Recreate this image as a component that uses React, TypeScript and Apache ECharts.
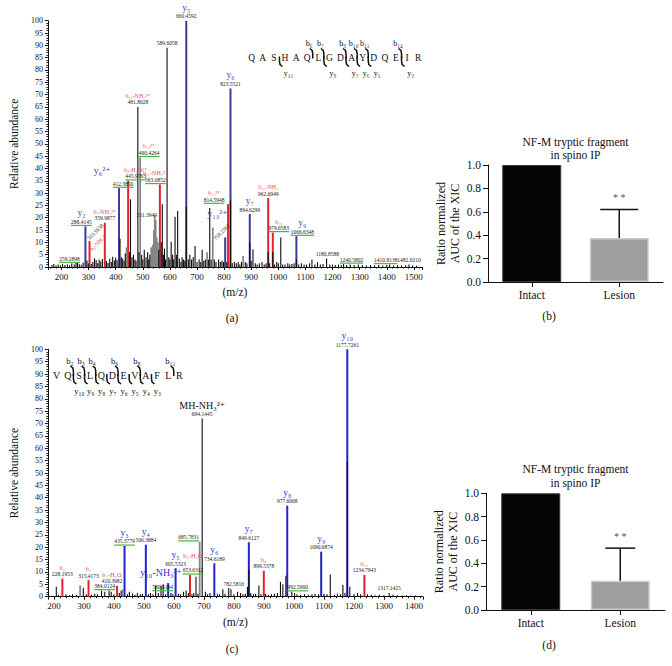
import React, { useEffect, useRef } from "react";
import * as echarts from "echarts";

const SERIF = "'Liberation Serif', 'Times New Roman', 'DejaVu Serif', serif";

// ================= Panel (a): MS/MS spectrum =================
const specABlue: number[][] = [
  [288.41, 16.5], [412.39, 32], [660.46, 100], [804, 12], [823.55, 72.5], [894.63, 21.5], [1066.63, 12.5],
];
const specARed: number[][] = [
  [303.56, 10.5], [359.99, 18], [445.98, 35], [563.09, 33.5], [814.59, 25.5], [962.69, 28], [979.66, 14],
];
const specAGrey: number[][] = [
  [440, 8], [490.43, 44.5], [531, 8], [537, 9], [541, 15], [544, 21], [547.8, 19], [551.4, 12], [556, 10],
  [737, 6], [758.24, 16], [870, 4.5],
];
const specABlack: number[][] = [
  [165, 0.8], [172, 1.2], [180, 0.6], [188, 1], [196, 0.7], [204, 1.3], [213, 0.8], [222, 1], [230, 0.7],
  [238, 1.4], [247, 1], [254, 1.6], [259.3, 2], [266, 1.1], [273, 0.9], [280, 1.8], [294, 2.6], [299, 1.5],
  [310, 1.2], [316, 2], [322, 3.5], [328, 2.8], [334, 1.5], [339, 3], [345, 2.2], [351, 3.2], [366, 2.4],
  [372, 1.6], [378, 3.4], [384, 2], [389, 4.2], [395, 2.6], [400, 3.8], [405, 2.8], [416, 11.5], [421, 4],
  [426, 3.5], [431, 2.5], [435.5, 5.5], [451, 6], [454.7, 27.5], [460, 4], [465.6, 5], [471, 3], [475, 2.5],
  [481.8, 65], [486, 6], [496, 5], [500, 3], [505.5, 7], [512, 4], [518, 6], [522, 3], [526, 5], [559, 7],
  [568, 10], [572, 25.5], [576, 5], [580, 7.5], [584, 3], [589.6, 89], [596, 4], [600, 3], [604.7, 10.3],
  [610, 5], [614, 3], [619, 20.4], [624, 5], [628.6, 22.7], [635, 3.5], [641, 2], [645, 4], [650, 3],
  [655, 2.5], [660.46, 24.5], [668, 3], [673.5, 5], [680, 3], [686, 4], [692.8, 8.5], [700, 2], [708, 3],
  [714, 2], [719, 7], [725, 2.5], [731, 3], [742, 3], [747, 24], [752, 3], [764, 3], [770, 2], [779.7, 3],
  [786, 2], [792, 2.5], [798, 2], [810, 2], [823.55, 27], [830, 1.5], [838, 2], [845, 1.5], [852, 2],
  [858, 1], [864, 2], [878, 2], [884, 1.5], [894.63, 10], [900, 2.5], [906.5, 7.2], [915, 1.5], [922, 1],
  [930, 1.5], [940, 2], [948, 1], [955, 1.5], [962.69, 6], [968, 1.5], [979.66, 6], [986, 1], [994, 2],
  [1000, 1.5], [1009, 12], [1016, 1], [1025, 1], [1035, 1.5], [1042, 1], [1050, 1.2], [1058, 1.5],
  [1066.63, 3], [1075, 1], [1085, 1.5], [1095, 1], [1104, 1], [1115, 1.5], [1124, 3], [1135, 1],
  [1144.5, 2], [1155, 1], [1165, 1.2], [1178, 3.5], [1190, 1], [1200, 1], [1210, 0.8], [1222, 1],
  [1232, 0.8], [1240.6, 1.2], [1252, 0.8], [1265, 1], [1280, 0.8], [1295, 1], [1310, 0.8], [1325, 0.6],
  [1340, 0.8], [1355, 0.6], [1370, 0.8], [1385, 0.6], [1400, 0.8], [1410.8, 1], [1425, 0.6], [1440, 0.8],
  [1455, 0.6], [1470, 0.7], [1482, 1], [1495, 0.6], [1510, 0.5],
];
// [m/z, peak intensity, ion label, m/z label, ion type]
type Lab = [number, number, string, string, string];
const labelsA: Lab[] = [
  [259.2898, 1.5, "", "259.2898", ""],
  [288.4145, 16.5, "y₂", "288.4145", "y"],
  [303.5638, 10.5, "b₆-NH₃²⁺", "303.5638", "b"],
  [359.9877, 18, "b₇-NH₃²⁺", "359.9877", "b"],
  [412.385, 32, "y₆²⁺", "412.3850", "y"],
  [445.9763, 35, "b₉-H₂O²⁺", "445.9763", "b"],
  [481.8028, 65, "b₁₀-NH₃²⁺", "481.8028", "b"],
  [490.4264, 44.5, "b₁₀²⁺", "490.4264", "b"],
  [551.3949, 21, "", "551.3949", ""],
  [563.0852, 33.5, "b₁₁-NH₃²⁺", "563.0852", "b"],
  [589.6058, 89, "", "589.6058", ""],
  [660.4592, 100, "y₅", "660.4592", "y"],
  [758.2361, 16, "y₁₃²⁺", "758.2361", "y"],
  [814.5948, 25.5, "b₁₄²⁺", "814.5948", "b"],
  [823.5521, 72.5, "y₆", "823.5521", "y"],
  [894.6299, 21.5, "y₇", "894.6299", "y"],
  [962.6949, 28, "b₁₀-NH₃", "962.6949", "b"],
  [979.6583, 14, "b₁₀", "979.6583", "b"],
  [1066.6348, 12.5, "y₉", "1066.6348", "y"],
  [1180.8588, 3.5, "", "1180.8588", ""],
  [1240.5802, 1.2, "", "1240.5802", ""],
  [1410.8138, 1, "", "1410.8138", ""],
  [1482.021, 1, "", "1482.0210", ""],
];
const greenA = ["259.2898", "288.4145", "412.3850", "445.9763", "490.4264", "563.0852", "814.5948",
  "979.6583", "1066.6348", "1240.5802", "1410.8138"];
const seqA = "QASHAQLGDAYDQEIR";
const bCutsA = [6, 7, 9, 10, 11, 14];
const yCutsA = [13, 9, 7, 6, 5, 2];
const yLabelsA = ["y₁₁", "y₉", "y₇", "y₆", "y₅", "y₂"];

// ================= Panel (c): MS/MS spectrum =================
const specCBlue: number[][] = [
  [435.38, 20.5], [506.39, 21], [580.62, 5.5], [605.53, 11.5], [734.62, 13.5], [849.61, 22],
  [977.61, 36.8], [1090.69, 18.2], [1177.73, 100],
];
const specCRed: number[][] = [
  [228.2, 7.3], [315.42, 6.7], [410.4, 4.4], [653.63, 8.8], [899.54, 10.5], [1234.79, 8.8],
];
const specCGrey: number[][] = [[287.5, 4.6], [429.5, 3], [685.78, 22.2]];
const specCBlack: number[][] = [
  [208, 4], [215, 0.8], [240, 1], [252, 0.6], [262, 1], [275, 0.8], [298, 3.6], [308, 1], [325, 0.8],
  [336, 1.2], [345, 1], [358.7, 2.5], [369.5, 2], [384, 2.5], [391, 2], [400, 1], [418, 1.5], [424, 2.5],
  [445, 1], [451.5, 2], [462, 1.2], [470, 0.8], [478, 1.5], [488, 1], [495, 1.2], [515, 1], [522, 1.5],
  [530, 1], [539, 4.5], [548, 1.5], [557, 4.5], [564, 5], [572, 1], [590, 1.5], [596, 1], [615, 1.2],
  [622, 1], [632, 2], [640.6, 2.5], [648, 1.5], [660, 1], [666, 1.5], [673.5, 8.1], [680, 1.2],
  [694.14, 72], [705, 2], [712, 1], [720, 1.5], [745, 1.2], [752, 1], [763, 3], [770, 1.2], [782.6, 3.5],
  [790, 3], [800, 1], [812, 2], [822, 1.5], [830, 1], [838, 1.2], [845, 4], [849.61, 11], [856, 1.5],
  [865, 1], [872, 1.2], [883, 4.5], [890, 1], [905, 1.2], [915, 0.8], [925, 1], [935, 1.2], [945, 1.5],
  [955, 6], [963, 5], [973, 8.5], [992.6, 2], [1002, 1.5], [1010, 1], [1022, 0.8], [1035, 1], [1048, 0.8],
  [1060, 1], [1070, 1.2], [1082, 1], [1100, 1.2], [1110, 1], [1121, 9], [1135, 0.8], [1145, 1.2],
  [1155, 1], [1163, 4.7], [1170, 1.5], [1177.73, 54.5], [1186, 4], [1200, 1], [1212, 1.5], [1222, 1],
  [1245, 1], [1258, 0.8], [1270, 0.6], [1285, 0.8], [1300, 0.6], [1317.1, 1.5], [1330, 0.8], [1345, 0.6],
  [1360, 0.5], [1375, 0.6], [1390, 0.5], [1405, 0.5],
];
const labelsC: Lab[] = [
  [228.1953, 7.3, "b₂", "228.1953", "b"],
  [315.4173, 6.7, "b₃", "315.4173", "b"],
  [384.0124, 2.5, "", "384.0124", ""],
  [410.3982, 4.4, "b₄-H₂O", "410.3982", "b"],
  [435.3779, 20.5, "y₃", "435.3779", "y"],
  [506.3884, 21, "y₄", "506.3884", "y"],
  [580.6194, 5.5, "y₁₀-NH₃²⁺", "580.6194", "y"],
  [605.5323, 11.5, "y₅", "605.5323", "y"],
  [653.6312, 8.8, "b₆-H₂O", "653.6312", "b"],
  [685.7831, 22.2, "", "685.7831", ""],
  [694.1445, 72, "MH-NH₃²⁺", "694.1445", "m"],
  [734.6189, 13.5, "y₆", "734.6189", "y"],
  [782.5816, 3.5, "", "782.5816", ""],
  [849.6127, 22, "y₇", "849.6127", "y"],
  [899.5378, 10.5, "b₈", "899.5378", "b"],
  [977.6068, 36.8, "y₈", "977.6068", "y"],
  [992.59, 2, "", "992.5900", ""],
  [1090.6874, 18.2, "y₉", "1090.6874", "y"],
  [1177.7261, 100, "y₁₀", "1177.7261", "y"],
  [1234.7943, 8.8, "b₁₁", "1234.7943", "b"],
  [1317.1425, 1.5, "", "1317.1425", ""],
];
const greenC = ["384.0124", "435.3779", "580.6194", "653.6312", "685.7831", "992.5900"];
const seqC = "VQSLQDEVAFLR";
const bCutsC = [2, 3, 4, 6, 8, 11];
const yCutsC = [10, 9, 8, 7, 6, 5, 4, 3];
const yLabelsC = ["y₁₀", "y₉", "y₈", "y₇", "y₆", "y₅", "y₄", "y₃"];

// ================= Panels (b), (d): bar charts =================
const barCategories = ["Intact", "Lesion"];
const barsB = [1.0, 0.377];
const errB: (number | null)[] = [null, 0.62];
const barsD = [1.0, 0.25];
const errD: (number | null)[] = [null, 0.53];
const barTitle = "NF-M tryptic fragment\nin spino IP";
const barYName = "Ratio normalized\nAUC of the XIC";
const sigMark = "* *";

// ================= layout (label offsets, px) =================
type Off = {
  dx?: number; dy?: number; ix?: number; iy?: number; isz?: number;
  rot?: boolean; rdx?: number; rdy?: number; ridx?: number; ridy?: number; irot?: boolean;
};
const layoutA: Record<string, Off> = {
  "259.2898": { dx: -8 },
  "288.4145": { dx: -4 },
  "303.5638": { rot: true, rdx: 5.7, rdy: -9.3, irot: true, ridx: 9, ridy: 1 },
  "412.3850": { dx: 4, ix: -21, iy: -5, isz: 10 },
  "445.9763": { dx: 7.5 },
  "490.4264": { dx: 9 },
  "551.3949": { dx: -10, dy: 4 },
  "563.0852": { dx: -4.5 },
  "758.2361": { rot: true, rdx: 8.7, rdy: 4.4, ridx: 4.7, ridy: -13.6, isz: 10 },
  "814.5948": { dx: -14 },
  "979.6583": { dx: 6 },
  "1066.6348": { dx: 6 },
  "1240.5802": { dx: 8 },
  "1410.8138": { dx: -4 },
};
const layoutC: Record<string, Off> = {
  "384.0124": { dx: -4.5 },
  "410.3982": { dx: -5 },
  "580.6194": { dx: -5.5, dy: 8.5, ix: -1.5, iy: -6.3, isz: 10 },
  "653.6312": { dx: 3, iy: -7.7 },
  "685.7831": { dx: -11 },
  "694.1445": { isz: 10 },
  "782.5816": { dx: 5 },
  "992.5900": { dx: 6 },
};

const SUB = "₀₁₂₃₄₅₆₇₈₉";
const toSub = (n: number) => String(n).split("").map((d) => SUB[+d]).join("");

function txt(text: string, size: number, fill: string, align: string, valign: string, extra: any = {}) {
  return {
    text, fontSize: size, fontFamily: SERIF, fill,
    align, verticalAlign: valign, textAlign: align, textVerticalAlign: valign, ...extra,
  };
}

function peakSeries(ax: number, data: number[][], color: string, width: number) {
  return {
    type: "custom", xAxisIndex: ax, yAxisIndex: ax, silent: true,
    data, encode: { x: 0, y: 1 },
    renderItem: (_p: any, api: any) => {
      const a = api.coord([api.value(0), 0]);
      const b = api.coord([api.value(0), api.value(1)]);
      return {
        type: "line",
        shape: { x1: a[0], y1: a[1], x2: b[0], y2: b[1] },
        style: { stroke: color, lineWidth: width },
      };
    },
  };
}

function labelSeries(ax: number, labels: Lab[], layout: Record<string, Off>, green: string[],
  colors: { y: string; b: string }, bSize: number) {
  return {
    type: "custom", xAxisIndex: ax, yAxisIndex: ax, silent: true, z: 10,
    data: labels.map((l, i) => [l[0], l[1], i]),
    encode: { x: 0, y: 1 },
    renderItem: (_p: any, api: any) => {
      const idx = api.value(2);
      const [mz, inten, ion, num, kind] = labels[idx];
      const L = layout[num] || {};
      const p = api.coord([mz, inten]);
      const kids: any[] = [];
      const ionColor = kind === "y" ? colors.y : kind === "b" ? colors.b : "#111";
      const ionSize = L.isz ?? (kind === "y" ? 9.5 : kind === "b" ? bSize : 10);
      if (L.rot) {
        kids.push({
          type: "text", x: p[0] + (L.rdx || 0), y: p[1] + (L.rdy || 0), rotation: Math.PI / 4,
          style: txt(num, 5.5, "#1a1a1a", "center", "middle"),
        });
        if (ion) {
          kids.push({
            type: "text", x: p[0] + (L.ridx || 0), y: p[1] + (L.ridy || 0), rotation: L.irot ? Math.PI / 4 : 0,
            style: txt(ion, ionSize, ionColor, "center", "middle"),
          });
        }
      } else {
        const cx = p[0] + (L.dx || 0);
        const ny = p[1] - 1.5 + (L.dy || 0);
        kids.push({ type: "text", x: cx, y: ny, style: txt(num, 5.5, "#1a1a1a", "center", "bottom") });
        if (green.includes(num)) {
          const w = num.length * 2.6;
          kids.push({
            type: "line", shape: { x1: cx - w / 2, y1: ny + 0.6, x2: cx + w / 2, y2: ny + 0.6 },
            style: { stroke: "#46b83c", lineWidth: 1.2 },
          });
        }
        if (ion) {
          kids.push({
            type: "text", x: cx + (L.ix || 0), y: ny - 6.5 + (L.iy || 0),
            style: txt(ion, ionSize, ionColor, "center", "bottom"),
          });
        }
      }
      return { type: "group", children: kids };
    },
  };
}

function barSeries(ax: number, values: number[]) {
  return {
    type: "bar", xAxisIndex: ax, yAxisIndex: ax, barWidth: 59, silent: true,
    data: values.map((v, i) => ({
      value: v,
      itemStyle: i === 0
        ? { color: "#050505", borderColor: "#3a3a3a", borderWidth: 1 }
        : { color: "#9e9e9e", borderColor: "#cacaca", borderWidth: 1.5 },
    })),
  };
}

function errSeries(ax: number, values: number[], errs: (number | null)[], capHalf: number) {
  return {
    type: "custom", xAxisIndex: ax, yAxisIndex: ax, silent: true, z: 5,
    data: errs.map((e, i) => (e == null ? null : [i, values[i], e])).filter((d) => d),
    encode: { x: 0, y: 2 },
    renderItem: (_p: any, api: any) => {
      const base = api.coord([api.value(0), api.value(1)]);
      const top = api.coord([api.value(0), api.value(2)]);
      return {
        type: "group",
        children: [
          { type: "line", shape: { x1: base[0], y1: base[1], x2: top[0], y2: top[1] }, style: { stroke: "#111", lineWidth: 1.5 } },
          { type: "line", shape: { x1: top[0] - capHalf, y1: top[1], x2: top[0] + capHalf, y2: top[1] }, style: { stroke: "#111", lineWidth: 1.5 } },
          { type: "text", x: top[0], y: top[1] - 12, style: txt(sigMark, 10, "#555", "center", "middle") },
        ],
      };
    },
  };
}

function seqGraphics(seq: string, bCuts: number[], yCuts: number[], yLabels: string[], g: any) {
  const els: any[] = [];
  const n = seq.length;
  seq.split("").forEach((ch, i) => {
    els.push({ type: "text", x: g.x0 + i * g.sp, y: g.y, style: txt(ch, g.fs, "#111", "center", "middle") });
  });
  bCuts.forEach((k) => {
    const cx = g.x0 + (k - 0.5) * g.sp;
    els.push({
      type: "polyline",
      shape: { points: [[cx - 3, g.y - 9], [cx - 0.6, g.y - 7], [cx, g.y - 4], [cx, g.y + 1]] },
      style: { stroke: "#111", lineWidth: 1.5, fill: null },
    });
    els.push({ type: "text", x: cx - 3.5, y: g.y + g.bDy, style: txt("b" + toSub(k), g.lfs, "#111", "center", "middle") });
  });
  yCuts.forEach((m, j) => {
    const cx = g.x0 + (n - m - 0.5) * g.sp;
    els.push({
      type: "polyline",
      shape: { points: [[cx, g.y - 1], [cx, g.y + 4], [cx + 0.6, g.y + 7], [cx + 3, g.y + 9]] },
      style: { stroke: "#111", lineWidth: 1.5, fill: null },
    });
    els.push({ type: "text", x: cx + g.yDx, y: g.y + g.yDy, style: txt(yLabels[j], g.lfs, "#111", "center", "middle") });
  });
  return els;
}

const axisLineStyle = { show: true, lineStyle: { color: "#111", width: 1 } };

function specXAxis(grid: number, min: number, max: number, split: number) {
  return {
    type: "value", gridIndex: grid, min, max, splitNumber: split,
    name: "(m/z)", nameLocation: "middle", nameGap: 19,
    nameTextStyle: { fontFamily: SERIF, fontSize: 11.5, color: "#111" },
    axisLine: axisLineStyle,
    axisTick: { show: true, length: 3, lineStyle: { color: "#111" } },
    minorTick: { show: true, splitNumber: 5, length: 1.5, lineStyle: { color: "#111" } },
    axisLabel: {
      fontFamily: SERIF, fontSize: 9, color: "#111", margin: 5, showMinLabel: false, showMaxLabel: false,
      formatter: (v: number) => String(v),
    },
    splitLine: { show: false },
  };
}
function specYAxis(grid: number) {
  return {
    type: "value", gridIndex: grid, min: 0, max: 100, interval: 5,
    name: "Relative abundance", nameLocation: "middle", nameGap: 23, nameRotate: 90,
    nameTextStyle: { fontFamily: SERIF, fontSize: 11.5, color: "#111" },
    axisLine: axisLineStyle,
    axisTick: { show: true, length: 3, lineStyle: { color: "#111" } },
    minorTick: { show: true, splitNumber: 5, length: 1.5, lineStyle: { color: "#111" } },
    axisLabel: { fontFamily: SERIF, fontSize: 8, color: "#111", margin: 5, formatter: (v: number) => String(v) },
    splitLine: { show: false },
  };
}
function barXAxis(grid: number) {
  return {
    type: "category", gridIndex: grid, data: barCategories,
    axisLine: axisLineStyle,
    axisTick: { show: true, alignWithLabel: true, length: 5, lineStyle: { color: "#111" } },
    axisLabel: { fontFamily: SERIF, fontSize: 11.5, color: "#111", margin: 7 },
    splitLine: { show: false },
  };
}
function barYAxis(grid: number) {
  return {
    type: "value", gridIndex: grid, min: 0, max: 1, interval: 0.2,
    name: barYName, nameLocation: "middle", nameGap: 26, nameRotate: 90,
    nameTextStyle: { fontFamily: SERIF, fontSize: 12, color: "#111", lineHeight: 14 },
    axisLine: axisLineStyle,
    axisTick: { show: true, length: 5, lineStyle: { color: "#111" } },
    axisLabel: { fontFamily: SERIF, fontSize: 11.5, color: "#111", margin: 7, formatter: (v: number) => v.toFixed(1) },
    splitLine: { show: false },
  };
}

function buildOption() {
  const colA = { y: "#4848ad", b: "#e4505c" };
  const colC = { y: "#3434d4", b: "#e4505c" };
  const graphics: any[] = [
    ...seqGraphics(seqA, bCutsA, yCutsA, yLabelsA, { x0: 251.7, sp: 11.1, y: 57.5, fs: 9.5, lfs: 8, bDy: -14, yDy: 16, yDx: 9 }),
    ...seqGraphics(seqC, bCutsC, yCutsC, yLabelsC, { x0: 56.7, sp: 11.15, y: 375, fs: 10, lfs: 8.5, bDy: -14.5, yDy: 16, yDx: 6 }),
    { type: "text", x: 575.5, y: 148.5, style: txt(barTitle, 11.5, "#111", "center", "middle", { lineHeight: 13.5 }) },
    { type: "text", x: 575.5, y: 476, style: txt(barTitle, 11.5, "#111", "center", "middle", { lineHeight: 13.5 }) },
    { type: "text", x: 232, y: 318, style: txt("(a)", 11.5, "#111", "center", "middle") },
    { type: "text", x: 549, y: 316, style: txt("(b)", 11.5, "#111", "center", "middle") },
    { type: "text", x: 232, y: 649, style: txt("(c)", 11.5, "#111", "center", "middle") },
    { type: "text", x: 549, y: 645, style: txt("(d)", 11.5, "#111", "center", "middle") },
  ];
  return {
    animation: false,
    backgroundColor: "#ffffff",
    textStyle: { fontFamily: SERIF },
    grid: [
      { left: 42, top: 20.7, width: 380, height: 246.3 },
      { left: 488, top: 165, width: 175, height: 117 },
      { left: 42, top: 349.3, width: 381, height: 247.4 },
      { left: 486, top: 493.3, width: 179, height: 116.7 },
    ],
    xAxis: [specXAxis(0, 150, 1530, 13), barXAxis(1), specXAxis(2, 180, 1430, 12), barXAxis(3)],
    yAxis: [specYAxis(0), barYAxis(1), specYAxis(2), barYAxis(3)],
    graphic: { elements: graphics },
    series: [
      peakSeries(0, specABlue, "#3a3a9c", 2),
      peakSeries(0, specARed, "#e3222f", 2),
      peakSeries(0, specAGrey, "#858585", 1.7),
      peakSeries(0, specABlack, "#0d0d0d", 1.1),
      labelSeries(0, labelsA, layoutA, greenA, colA, 6),
      barSeries(1, barsB),
      errSeries(1, barsB, errB, 19),
      peakSeries(2, specCBlue, "#2323cc", 2),
      peakSeries(2, specCRed, "#e3222f", 2),
      peakSeries(2, specCGrey, "#858585", 1.8),
      peakSeries(2, specCBlack, "#0d0d0d", 1.1),
      labelSeries(2, labelsC, layoutC, greenC, colC, 6.5),
      barSeries(3, barsD),
      errSeries(3, barsD, errD, 15),
    ],
  };
}

export default function App() {
  const ref = useRef<HTMLDivElement>(null);
  useEffect(() => {
    if (!ref.current) return;
    const chart = echarts.init(ref.current, null, { renderer: "svg" });
    chart.setOption(buildOption() as any);
    return () => chart.dispose();
  }, []);
  return (
    <div
      ref={ref}
      style={{ position: "absolute", left: 0, top: 0, width: 672, height: 666, background: "#fff" }}
    />
  );
}
